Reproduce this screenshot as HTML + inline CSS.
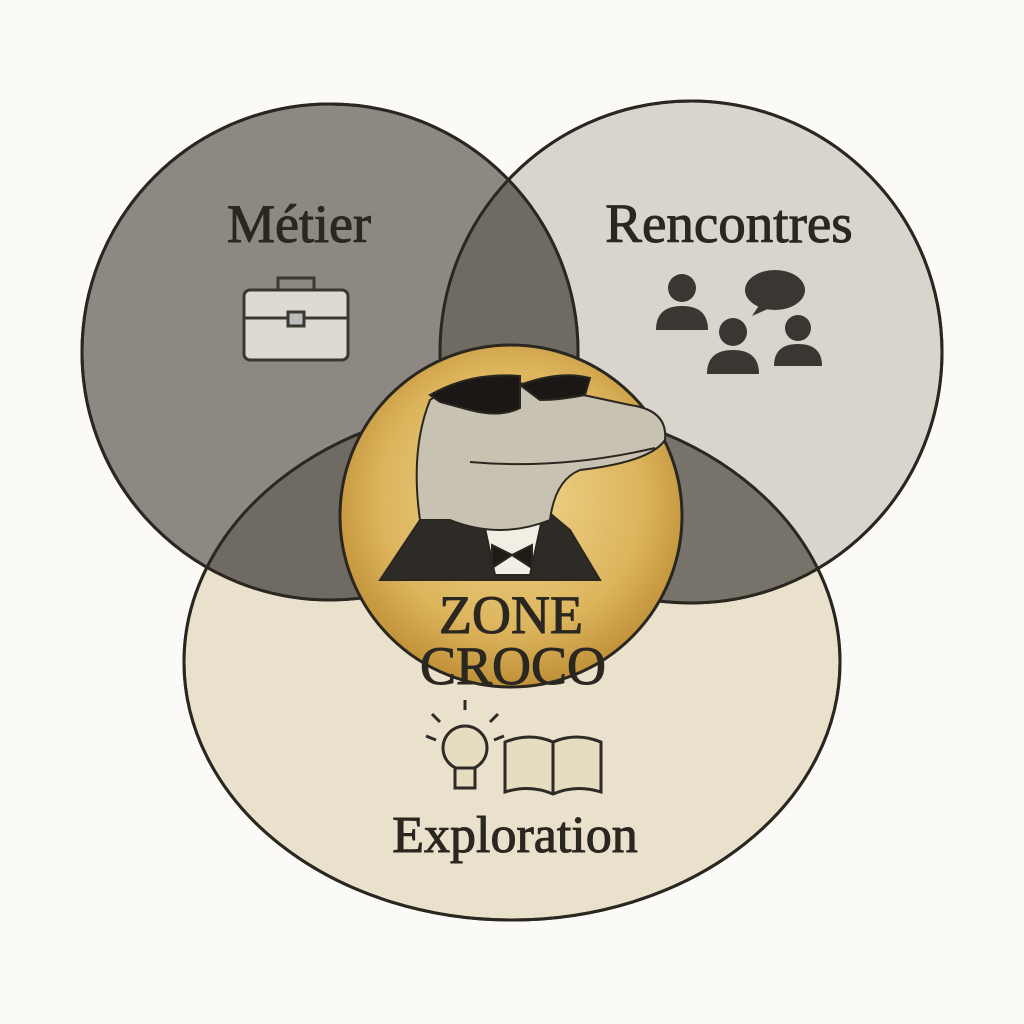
<!DOCTYPE html>
<html><head><meta charset="utf-8"><style>
html,body{margin:0;padding:0;background:#fbfaf6;}
svg{display:block}
text{font-family:"Liberation Serif",serif;fill:#2a2620;stroke:#2a2620;stroke-width:1;}
</style></head><body>
<svg width="1024" height="1024" viewBox="0 0 1024 1024">
<defs>
<clipPath id="cm"><circle cx="330" cy="352" r="248"/></clipPath>
<clipPath id="cr"><circle cx="691" cy="352" r="251"/></clipPath>
<radialGradient id="gold" cx="50%" cy="45%" r="55%">
<stop offset="0" stop-color="#f0d890"/><stop offset="0.7" stop-color="#dcb45c"/><stop offset="1" stop-color="#c09038"/>
</radialGradient>
</defs>
<rect width="1024" height="1024" fill="#fbfaf6"/>
<ellipse cx="512" cy="662" rx="328" ry="258" fill="#e9e1cb" stroke="#2a2620" stroke-width="3"/>
<circle cx="691" cy="352" r="251" fill="#d9d5cd" stroke="#2a2620" stroke-width="3"/>
<circle cx="330" cy="352" r="248" fill="#8d8982" stroke="#2a2620" stroke-width="3"/>
<g clip-path="url(#cm)"><circle cx="691" cy="352" r="251" fill="#6f6a62"/></g>
<g clip-path="url(#cm)"><ellipse cx="512" cy="662" rx="328" ry="258" fill="#6f6a62"/></g>
<g clip-path="url(#cr)"><ellipse cx="512" cy="662" rx="328" ry="258" fill="#77726a"/></g>
<circle cx="330" cy="352" r="248" fill="none" stroke="#2a2620" stroke-width="3"/>
<circle cx="691" cy="352" r="251" fill="none" stroke="#2a2620" stroke-width="3"/>
<ellipse cx="512" cy="662" rx="328" ry="258" fill="none" stroke="#2a2620" stroke-width="3"/>
<circle cx="511" cy="516" r="171" fill="url(#gold)" stroke="#2a2620" stroke-width="3"/>
<g stroke="#2a2620" stroke-width="2">
<path d="M380 580 L420 520 L470 505 L540 505 L570 530 L600 580 Z" fill="#2e2a26"/>
<path d="M480 505 L495 575 L530 575 L545 505 Z" fill="#f2eee4"/>
<path d="M492 545 L512 555 L492 568 Z M532 545 L512 555 L532 568 Z" fill="#1e1a16"/>
<path d="M420 520 Q410 450 430 400 Q470 370 560 390 L630 405 Q668 410 665 440 Q650 462 580 470 Q555 480 550 520 Q500 540 450 520 Z" fill="#c8c2b2"/>
<path d="M430 395 Q470 372 520 376 L520 408 Q500 418 470 410 L440 402 Z" fill="#1a1714"/>
<path d="M520 385 Q560 370 590 378 L585 395 Q560 400 540 400 Z" fill="#1a1714"/>
<path d="M470 462 Q560 470 655 448" fill="none"/>
</g>
<text x="299" y="242" font-size="54" text-anchor="middle">Métier</text>
<text x="729" y="242" font-size="55" text-anchor="middle">Rencontres</text>
<text x="511" y="633" font-size="54" text-anchor="middle">ZONE</text>
<text x="513" y="684" font-size="54" text-anchor="middle">CROCO</text>
<text x="515" y="852" font-size="52" text-anchor="middle">Exploration</text>
<g stroke="#3a3630" stroke-width="3" fill="#dedad3">
<path d="M278 290 v-12 h36 v12" fill="none"/>
<rect x="244" y="290" width="104" height="70" rx="6"/>
<path d="M244 318 h104" fill="none"/>
<rect x="288" y="312" width="16" height="14" fill="#bbb"/>
</g>
<g fill="#3a3632">
<circle cx="682" cy="288" r="14"/><path d="M656 330 q0-24 26-24 q26 0 26 24 z"/>
<circle cx="733" cy="332" r="14"/><path d="M707 374 q0-24 26-24 q26 0 26 24 z"/>
<circle cx="798" cy="328" r="13"/><path d="M774 366 q0-22 24-22 q24 0 24 22 z"/>
<ellipse cx="775" cy="290" rx="30" ry="20"/><path d="M760 304 l-8 12 l18 -8 z"/>
</g>
<g stroke="#2e2a26" stroke-width="3" fill="#e6dcc0">
<circle cx="465" cy="748" r="22"/>
<rect x="455" y="768" width="20" height="20"/>
<path d="M505 742 q25 -10 48 0 q23 -10 48 0 v50 q-25 -8 -48 2 q-23 -10 -48 -2 z"/>
<path d="M553 742 v52" fill="none"/>
<path d="M436 740 l-10 -4 M440 722 l-8 -8 M465 710 v-10 M490 722 l8 -8 M494 740 l10 -4" fill="none"/>
</g>
</svg>
</body></html>
